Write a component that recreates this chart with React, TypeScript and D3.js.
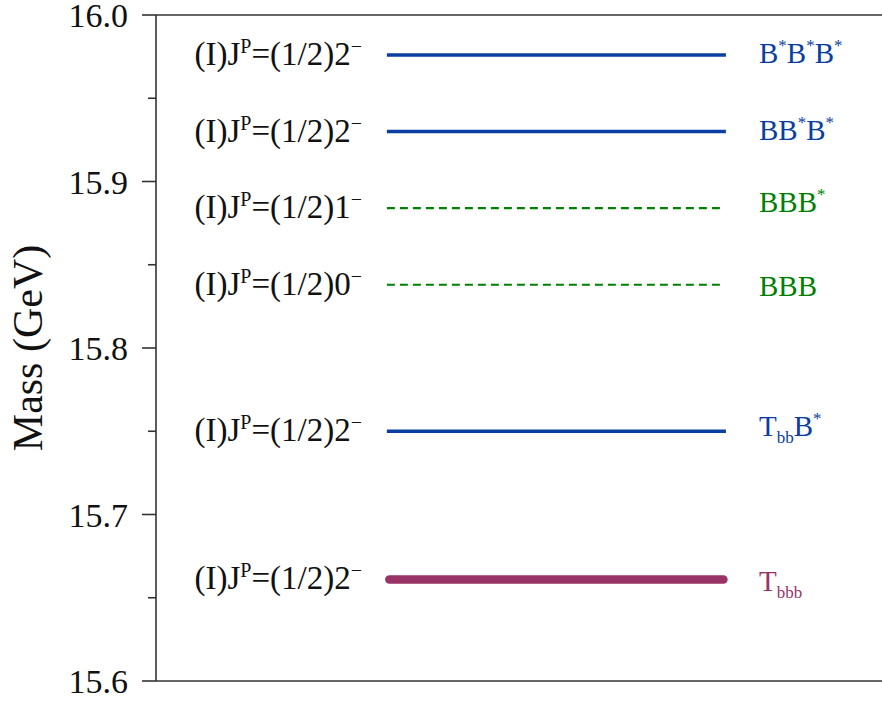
import React from "react";
import * as d3 from "d3";

// ---- data ----
const states = ["B*B*B*", "BB*B*", "BBB*", "BBB", "TbbB*", "Tbbb"];
const masses = [15.976, 15.93, 15.884, 15.838, 15.75, 15.661];
const kinds = ["blue", "blue", "green", "green", "blue", "magenta"];
const jpLabels = ["2", "2", "1", "0", "2", "2"];
const majorTicks = [15.6, 15.7, 15.8, 15.9, 16.0];
const minorTicks = [15.65, 15.75, 15.85, 15.95];

// ---- layout ----
const W = 882;
const H = 704;
const plotLeft = 156;
const plotRight = 900;
const plotTop = 15;
const plotBottom = 681;
const lineX0 = 0.318;
const lineX1 = 0.785;
const dashedX1 = 0.777;
const rightLabelX = 759;
const rightLabelDy = [8, 8, 4, 11, 5, 12];

const colors: Record<string, string> = {
  blue: "#0a3ea0",
  green: "#008000",
  magenta: "#993366",
};

const serif = "'Liberation Serif', 'Times New Roman', serif";

function RightLabel({ name, x, y, color }: { name: string; x: number; y: number; color: string }) {
  const fs = 29;
  const sup = 17;
  const parts: { t: string; kind: "n" | "sup" | "sub" }[] = [];
  if (name === "TbbB*") {
    parts.push({ t: "T", kind: "n" }, { t: "bb", kind: "sub" }, { t: "B", kind: "n" }, { t: "*", kind: "sup" });
  } else if (name === "Tbbb") {
    parts.push({ t: "T", kind: "n" }, { t: "bbb", kind: "sub" });
  } else {
    for (const ch of name) {
      if (ch === "*") parts.push({ t: "*", kind: "sup" });
      else parts.push({ t: ch, kind: "n" });
    }
  }
  let cur = 0;
  const spans = parts.map((p, i) => {
    let target = 0;
    if (p.kind === "sup") target = -12;
    if (p.kind === "sub") target = 7;
    const dy = target - cur;
    cur = target;
    return (
      <tspan key={i} dy={dy} fontSize={p.kind === "n" ? fs : sup}>
        {p.t}
      </tspan>
    );
  });
  return (
    <text x={x} y={y} fill={color} fontFamily={serif} fontSize={fs}>
      {spans}
    </text>
  );
}

function LeftLabel({ y, j }: { y: number; j: string }) {
  return (
    <text x={362} y={y} textAnchor="end" fill="#111" fontFamily={serif} fontSize={33}>
      <tspan>(I)J</tspan>
      <tspan dy={-12} fontSize={20}>P</tspan>
      <tspan dy={12}>=(1/2){j}</tspan>
      <tspan dy={-12} fontSize={20}>−</tspan>
    </text>
  );
}

export default function App() {
  const y = d3.scaleLinear().domain([15.6, 16.0]).range([plotBottom, plotTop]);
  const x = d3.scaleLinear().domain([0, 1]).range([plotLeft, 882]);
  const axisColor = "#333";

  return (
    <svg width={W} height={H} style={{ position: "absolute", left: 0, top: 0, background: "#fff" }}>
      {/* frame */}
      <line x1={plotLeft} x2={plotRight} y1={plotTop} y2={plotTop} stroke={axisColor} strokeWidth={1.6} />
      <line x1={plotLeft} x2={plotRight} y1={plotBottom} y2={plotBottom} stroke={axisColor} strokeWidth={1.6} />
      <line x1={plotLeft} x2={plotLeft} y1={plotTop} y2={plotBottom} stroke={axisColor} strokeWidth={1.6} />
      {majorTicks.map((t) => (
        <g key={t}>
          <line x1={plotLeft - 14} x2={plotLeft} y1={y(t)} y2={y(t)} stroke={axisColor} strokeWidth={1.6} />
          <text x={128} y={y(t)} dy={12} textAnchor="end" fontFamily={serif} fontSize={34} fill="#111">
            {d3.format(".1f")(t)}
          </text>
        </g>
      ))}
      {minorTicks.map((t) => (
        <line key={t} x1={plotLeft - 8} x2={plotLeft} y1={y(t)} y2={y(t)} stroke={axisColor} strokeWidth={1.6} />
      ))}
      <text
        transform={`translate(42, ${(plotTop + plotBottom) / 2}) rotate(-90)`}
        textAnchor="middle"
        fontFamily={serif}
        fontSize={42}
        fill="#111"
      >
        Mass (GeV)
      </text>

      {states.map((s, i) => {
        const kind = kinds[i];
        const c = colors[kind];
        const yy = y(masses[i]);
        const dashed = kind === "green";
        const thick = kind === "magenta";
        const inset = thick ? 2.5 : 0;
        return (
          <g key={s}>
            <line
              x1={x(lineX0) + inset}
              x2={x(dashed ? dashedX1 : lineX1) - inset}
              y1={yy}
              y2={yy}
              stroke={c}
              strokeWidth={thick ? 8.5 : dashed ? 2.2 : 3.4}
              strokeDasharray={dashed ? "8 5" : undefined}
              strokeLinecap={thick ? "round" : "butt"}
            />
            <LeftLabel y={yy + 10} j={jpLabels[i]} />
            <RightLabel name={s} x={rightLabelX} y={yy + rightLabelDy[i]} color={c} />
          </g>
        );
      })}
    </svg>
  );
}
